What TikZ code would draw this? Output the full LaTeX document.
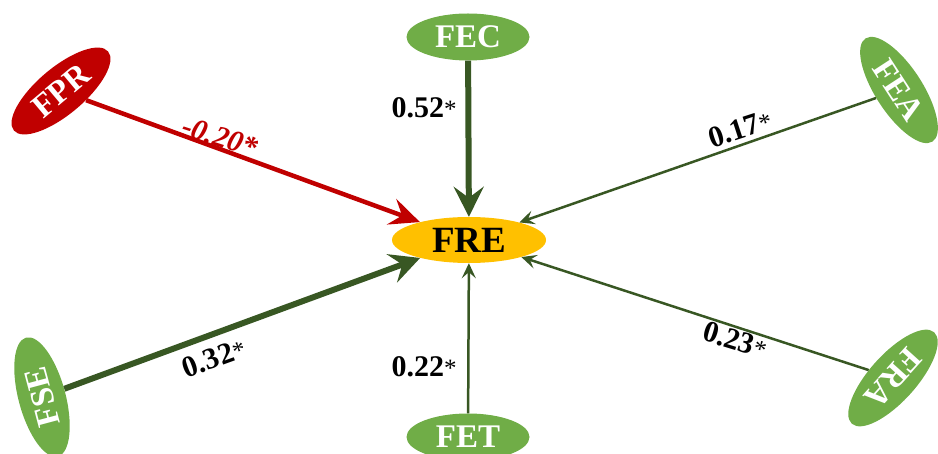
\documentclass[tikz,border=0pt]{standalone}
\usepackage{fontspec}
\setmainfont{Liberation Serif}
\usetikzlibrary{arrows.meta,shapes.geometric}
\definecolor{leafgreen}{HTML}{70AD47}
\definecolor{darkleaf}{HTML}{385723}
\definecolor{riskred}{HTML}{C00000}
\definecolor{goldfill}{HTML}{FFC000}
\newcommand{\sig}{{\fontsize{25}{25}\selectfont\mdseries *}}

\begin{document}
\begin{tikzpicture}[x=1pt,y=1pt,
  factor/.style={ellipse,fill=leafgreen,text=white,inner sep=0pt,
    minimum width=123pt,minimum height=47pt,
    font=\fontsize{33}{33}\selectfont\bfseries},
  strong/.style={draw=darkleaf,line width=6pt,
    -{Stealth[length=30pt,width=30pt,inset=11pt]}},
  weak/.style={draw=darkleaf,line width=2.5pt,
    -{Stealth[length=15pt,width=14pt,inset=6pt]}},
  coef/.style={inner sep=0pt,font=\fontsize{30}{30}\selectfont\bfseries}]
 \clip (0,0) rectangle (938,-454);
 % outcome in the middle
 \node[ellipse,fill=goldfill,inner sep=0pt,minimum width=154pt,
   minimum height=46pt,font=\fontsize{37}{37}\selectfont\bfseries]
   (fre) at (469,-240) {FRE};
 % factors round it
 \node[factor,fill=riskred,rotate=40] (fpr) at (61,-91) {FPR};
 \node[factor] (fec) at (468,-37) {FEC};
 \node[factor,rotate=-57] (fea) at (899,-90) {FEA};
 \node[factor,rotate=105] (fse) at (42,-397) {FSE};
 \node[factor] (fet) at (468,-437) {FET};
 \node[factor,rotate=228] (fra) at (893,-378) {FRA};
 % paths
 \draw[riskred,line width=4.5pt,
   -{Stealth[length=30pt,width=27pt,inset=11pt]}] (fpr)--(fre);
 \draw[strong] (fec)--(fre);
 \draw[strong] (fse)--(fre);
 \draw[weak] (fea)--(fre);
 \draw[weak] (fet)--(fre);
 \draw[weak] (fra)--(fre);
 % coefficients
 \node[coef,text=riskred,rotate=-18,
   font=\fontsize{30}{30}\selectfont\bfseries\itshape]
   (lpr) at (220,-137) {-0.20*};
 \node[coef] (lec) at (424,-108) {0.52\sig};
 \node[coef,rotate=18] (lea) at (740,-129) {0.17\sig};
 \node[coef,rotate=20] (lse) at (214,-358) {0.32\sig};
 \node[coef] (let) at (424,-367) {0.22\sig};
 \node[coef,rotate=-17] (lra) at (735,-340) {0.23\sig};
\end{tikzpicture}
\end{document}
